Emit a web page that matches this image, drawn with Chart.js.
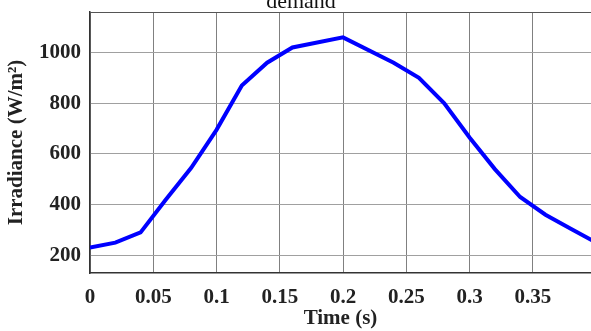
<!DOCTYPE html>
<html>
<head>
<meta charset="utf-8">
<script src="https://cdn.jsdelivr.net/npm/chart.js@4/dist/chart.umd.min.js"></script>
<style>
  html, body { margin: 0; padding: 0; background: #fff; }
  #wrap { width: 591px; height: 331px; position: relative; }
</style>
</head>
<body>
<div id="wrap"><canvas id="irr"></canvas></div>
<script>
'use strict'

// time (s) and irradiance (W/m2)
const times = [0, 0.02, 0.04, 0.06, 0.08, 0.1, 0.12, 0.14, 0.16, 0.2, 0.24, 0.26, 0.28, 0.3, 0.32, 0.34, 0.36, 0.38, 0.4]
const irradiance = [230, 250, 290, 420, 545, 695, 870, 960, 1020, 1060, 960, 900, 800, 665, 540, 430, 360, 305, 250]
const xTicks = [0, 0.05, 0.1, 0.15, 0.2, 0.25, 0.3, 0.35]
const yTicks = [200, 400, 600, 800, 1000]
const titleText = 'demand'
const xTitle = 'Time (s)'
const yTitle = 'Irradiance (W/m²)'

const serif = "'Liberation Serif', 'DejaVu Serif', serif"

const points = times.map((t, i) => ({ x: t, y: irradiance[i] }))

// cut-off title line + top frame line
const frame = {
    id: 'frame',
    afterDraw(chart) {
        const { ctx, chartArea } = chart
        ctx.save()
        ctx.strokeStyle = '#555'
        ctx.lineWidth = 1
        ctx.beginPath()
        ctx.moveTo(chartArea.left, chartArea.top + 0.5)
        ctx.lineTo(chartArea.right, chartArea.top + 0.5)
        ctx.stroke()
        ctx.fillStyle = '#111'
        ctx.font = '22px ' + serif
        ctx.textAlign = 'center'
        ctx.textBaseline = 'alphabetic'
        ctx.fillText(titleText, 301, 8)
        ctx.restore()
    }
}

const irrChart = new Chart(document.getElementById('irr'), {
    type: 'scatter',
    data: {
        datasets: [{
            data: points,
            showLine: true,
            borderColor: '#0000ff',
            backgroundColor: '#0000ff',
            borderWidth: 4,
            pointRadius: 0,
            tension: 0,
        }]
    },
    options: {
        responsive: true,
        maintainAspectRatio: false,
        animation: false,
        layout: { padding: { top: 12, right: 0, left: 0, bottom: 0 } },
        plugins: { legend: { display: false }, tooltip: { enabled: false } },
        scales: {
            x: {
                type: 'linear',
                min: 0,
                max: 0.396,
                grid: { color: '#808080', lineWidth: 1, drawTicks: false },
                border: { display: true, color: '#333', width: 1.5 },
                afterBuildTicks: s => { s.ticks = xTicks.map(v => ({ value: v })) },
                ticks: {
                    padding: 12,
                    color: '#222',
                    font: { family: serif, size: 21, weight: 'bold' },
                    callback: v => String(v)
                },
                title: {
                    display: true,
                    text: xTitle,
                    color: '#222',
                    padding: { top: 1, bottom: 0 },
                    font: { family: serif, size: 21, weight: 'bold' }
                },
                afterFit: s => { s.height = 58 }
            },
            y: {
                min: 130,
                max: 1160,
                grid: { color: '#a0a0a0', lineWidth: 1, drawTicks: false },
                border: { display: true, color: '#333', width: 1.5 },
                afterBuildTicks: s => { s.ticks = yTicks.map(v => ({ value: v })) },
                ticks: {
                    padding: 9,
                    color: '#222',
                    font: { family: serif, size: 21, weight: 'bold' },
                    callback: v => String(v)
                },
                title: {
                    display: true,
                    text: yTitle,
                    color: '#222',
                    padding: { top: 4, bottom: 0 },
                    font: { family: serif, size: 21, weight: 'bold' }
                },
                afterFit: s => { s.width = 90; s.paddingTop = 0; s.paddingBottom = 0 }
            }
        }
    },
    plugins: [frame]
})
</script>
</body>
</html>
